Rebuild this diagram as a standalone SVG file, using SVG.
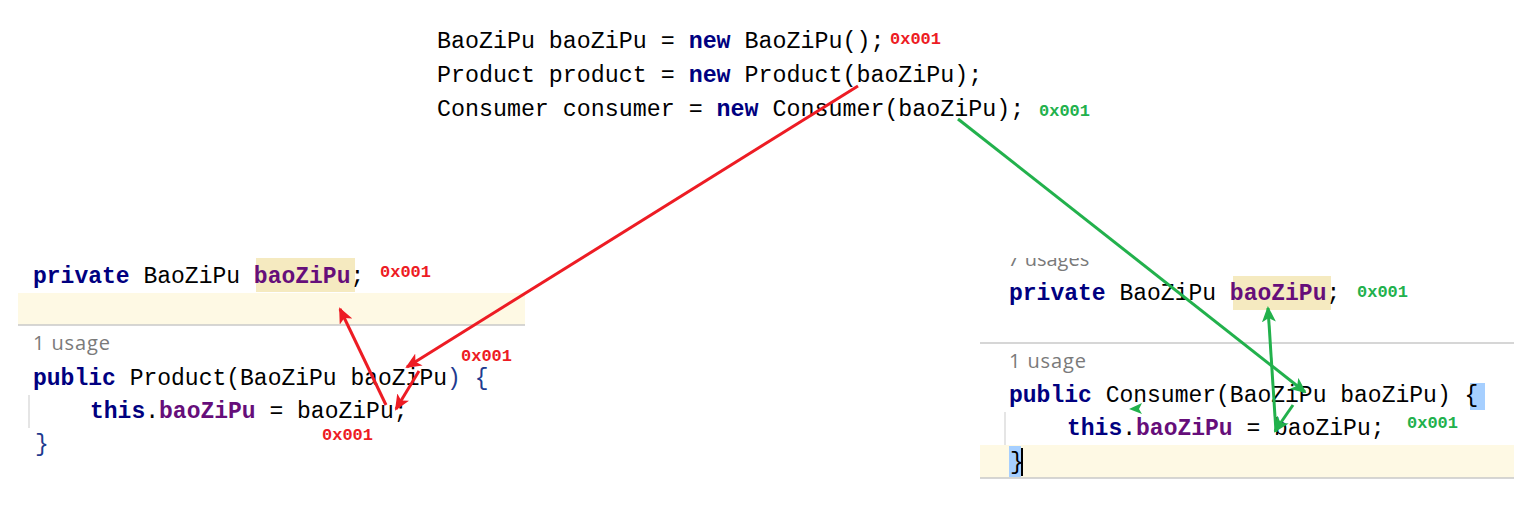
<svg xmlns="http://www.w3.org/2000/svg" width="1514" height="532" viewBox="0 0 1514 532">
<style>
.code{font-family:"Courier New","Nimbus Mono PS","Nimbus Mono L","FreeMono","Liberation Mono",monospace;font-size:23px;fill:#000;white-space:pre}
.top{font-size:23.3px}
.kw{font-weight:bold;fill:#000080}
.fld{font-weight:bold;fill:#660E7A}
.br{fill:#1F3B8F}
.usage{font-family:"Open Sans","Liberation Sans",sans-serif;font-size:20px;fill:#7A7A7A}
.addr{font-family:"Liberation Mono","DejaVu Sans Mono",monospace;font-weight:bold;font-size:17px}
.red{fill:#ED1C24}
.green{fill:#22B14C}
.cream{fill:#FEF9E4}
.hl{fill:#F5EAC0}
.sel{fill:#A6CFFF}
.sep{stroke:#C8C8C8;stroke-width:1.5}
.guide{stroke:#DDDDDD;stroke-width:1.5}
.ar{stroke:#ED1C24;stroke-width:3;fill:none}
.ag{stroke:#22B14C;stroke-width:3;fill:none}
</style>
<defs>
<marker id="mr" markerUnits="userSpaceOnUse" markerWidth="16" markerHeight="14" refX="14" refY="7" orient="auto"><path d="M0,0 L16,7 L0,14 L4,7 Z" fill="#ED1C24"/></marker>
<marker id="mg" markerUnits="userSpaceOnUse" markerWidth="16" markerHeight="14" refX="14" refY="7" orient="auto"><path d="M0,0 L16,7 L0,14 L4,7 Z" fill="#22B14C"/></marker>
<clipPath id="clipTop"><rect x="980" y="258" width="534" height="30"/></clipPath>
</defs>
<rect width="1514" height="532" fill="#FFFFFF"/>

<g id="main-code">
<text class="code top" x="437" y="48">BaoZiPu baoZiPu = <tspan class="kw">new</tspan> BaoZiPu();</text>
<text class="code top" x="437" y="82">Product product = <tspan class="kw">new</tspan> Product(baoZiPu);</text>
<text class="code top" x="437" y="116">Consumer consumer = <tspan class="kw">new</tspan> Consumer(baoZiPu);</text>
<text class="addr red" x="890" y="44">0x001</text>
<text class="addr green" x="1039" y="116">0x001</text>
</g>

<g id="product-panel">
<rect class="cream" x="18" y="293" width="507" height="32"/>
<line class="sep" x1="18" y1="325" x2="525" y2="325"/>
<rect class="hl" x="256" y="258" width="99" height="34"/>
<text class="code" x="33" y="283"><tspan class="kw">private</tspan> BaoZiPu <tspan class="fld">baoZiPu</tspan>;</text>
<text class="addr red" x="380" y="277">0x001</text>
<text class="usage" x="33" y="350" textLength="77">1 usage</text>
<text class="code" x="33" y="385"><tspan class="kw">public</tspan> Product(BaoZiPu baoZiPu<tspan class="br">)</tspan> <tspan class="br">{</tspan></text>
<line class="guide" x1="29" y1="395" x2="29" y2="428"/>
<text class="code" x="90" y="418"><tspan class="kw">this</tspan>.<tspan class="fld">baoZiPu</tspan> = baoZiPu;</text>
<text class="code br" x="35" y="451">}</text>
<text class="addr red" x="461" y="361">0x001</text>
<text class="addr red" x="322" y="440">0x001</text>
</g>

<g id="consumer-panel">
<text class="usage" x="1008" y="266" clip-path="url(#clipTop)">7 usages</text>
<rect class="hl" x="1233" y="276" width="98" height="34"/>
<text class="code" x="1009" y="300"><tspan class="kw">private</tspan> BaoZiPu <tspan class="fld">baoZiPu</tspan>;</text>
<text class="addr green" x="1357" y="297">0x001</text>
<line class="sep" x1="980" y1="343" x2="1514" y2="343"/>
<text class="usage" x="1009" y="368" textLength="77">1 usage</text>
<rect class="sel" x="1470" y="383" width="15" height="27"/>
<text class="code" x="1009" y="402"><tspan class="kw">public</tspan> Consumer(BaoZiPu baoZiPu) {</text>
<line class="guide" x1="1005" y1="412" x2="1005" y2="445"/>
<text class="code" x="1067" y="435"><tspan class="kw">this</tspan>.<tspan class="fld">baoZiPu</tspan> = baoZiPu;</text>
<text class="addr green" x="1407" y="428">0x001</text>
<rect class="cream" x="980" y="445" width="534" height="33"/>
<line class="sep" x1="980" y1="478" x2="1514" y2="478"/>
<rect class="sel" x="1009" y="446" width="12" height="31"/>
<text class="code" x="1010" y="469">}</text>
<line x1="1022" y1="448" x2="1022" y2="476" stroke="#000" stroke-width="2"/>
</g>

<g id="connectors">
<line class="ar" x1="858" y1="86" x2="407" y2="367" marker-end="url(#mr)"/>
<line class="ar" x1="386" y1="405" x2="340" y2="309" marker-end="url(#mr)"/>
<line class="ar" x1="419" y1="371" x2="396" y2="409" marker-end="url(#mr)"/>
<line class="ag" x1="958" y1="119" x2="1305" y2="392" marker-end="url(#mg)"/>
<line class="ag" x1="1276" y1="432" x2="1268" y2="308" marker-end="url(#mg)"/>
<line class="ag" x1="1293" y1="405" x2="1275" y2="431" marker-end="url(#mg)"/>
<path d="M1129,409 L1142,403 L1139,409 L1142,414 Z" fill="#22B14C"/>
</g>
</svg>
